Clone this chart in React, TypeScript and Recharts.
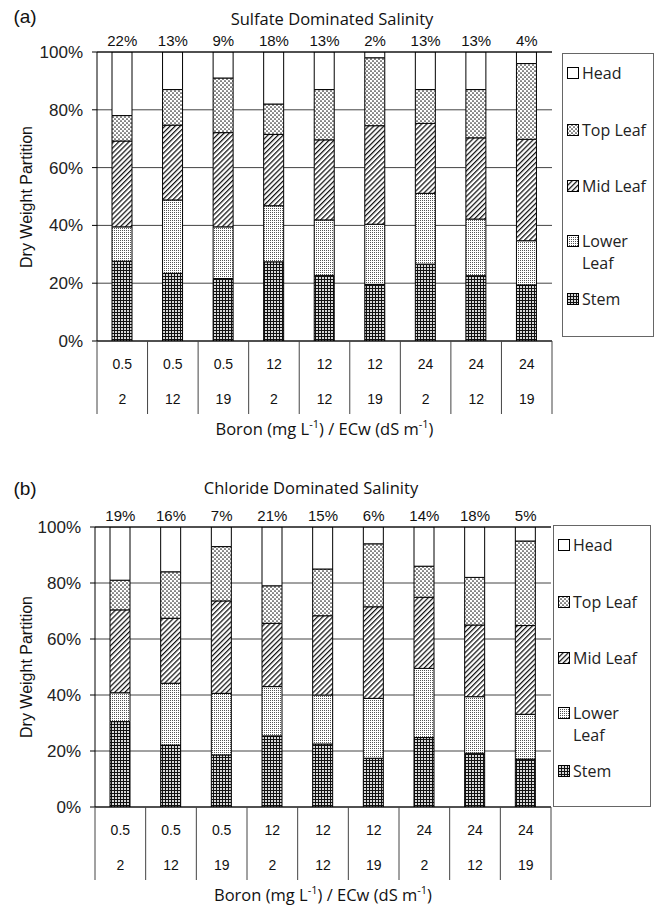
import React from 'react';
import { BarChart, Bar, XAxis, YAxis, CartesianGrid, Legend } from 'recharts';

// x categories: boron (mg/L) over ECw (dS/m)
const BORON = ['0.5', '0.5', '0.5', '12', '12', '12', '24', '24', '24'];
const ECW = ['2', '12', '19', '2', '12', '19', '2', '12', '19'];
const Y_TICKS = [0, 20, 40, 60, 80, 100];

// (a) sulfate dominated salinity, % of dry weight per plant part
const SULFATE_STEM = [27.6, 23.4, 21.6, 27.4, 22.7, 19.6, 26.6, 22.6, 19.4];
const SULFATE_LOWER = [11.9, 25.4, 17.9, 19.4, 19.2, 20.8, 24.5, 19.6, 15.3];
const SULFATE_MID = [29.7, 25.9, 32.6, 24.7, 27.7, 34.1, 24.2, 28.1, 35.1];
const SULFATE_TOP = [8.8, 12.3, 18.9, 10.5, 17.4, 23.5, 11.7, 16.7, 26.2];
const SULFATE_HEAD = [22, 13, 9, 18, 13, 2, 13, 13, 4];

// (b) chloride dominated salinity
const CHLORIDE_STEM = [30.5, 22.1, 18.6, 25.4, 22.5, 17.4, 24.8, 19.2, 17.1];
const CHLORIDE_LOWER = [10.3, 22.1, 22.0, 17.6, 17.5, 21.4, 24.7, 20.2, 16.0];
const CHLORIDE_MID = [29.6, 23.2, 33.0, 22.6, 28.3, 32.7, 25.4, 25.6, 31.7];
const CHLORIDE_TOP = [10.6, 16.6, 19.4, 13.4, 16.7, 22.5, 11.1, 17.0, 30.2];
const CHLORIDE_HEAD = [19, 16, 7, 21, 15, 6, 14, 18, 5];

const SERIES = [
  { key: 'stem', name: 'Stem' },
  { key: 'lower', name: 'Lower Leaf' },
  { key: 'mid', name: 'Mid Leaf' },
  { key: 'top', name: 'Top Leaf' },
  { key: 'head', name: 'Head' },
];

const ARIAL = '"Liberation Sans", Arial, sans-serif';
const CALIBRI = '"Open Sans", Lato, sans-serif';
const LEGEND_TOPS = [8, 65, 121, 176, 234]; // Head .. Stem

const Patterns = ({ id }: { id: string }) => (
  <defs>
    <pattern id={`${id}-stem`} width="3" height="3" patternUnits="userSpaceOnUse">
      <rect width="3" height="3" fill="#d8d8d8" />
      <path d="M0 0.5H3M0.5 0V3" stroke="#111" strokeWidth="1" />
    </pattern>
    <pattern id={`${id}-lower`} width="2" height="2" patternUnits="userSpaceOnUse">
      <rect width="2" height="2" fill="#fff" />
      <rect width="1" height="1" fill="#555" />
    </pattern>
    <pattern id={`${id}-mid`} width="3.6" height="3.6" patternUnits="userSpaceOnUse" patternTransform="rotate(45)">
      <rect width="3.6" height="3.6" fill="#fff" />
      <line x1="0.6" y1="0" x2="0.6" y2="3.6" stroke="#111" strokeWidth="1.3" />
    </pattern>
    <pattern id={`${id}-top`} width="4" height="4" patternUnits="userSpaceOnUse">
      <rect width="4" height="4" fill="#fff" />
      <circle cx="1" cy="1" r="0.85" fill="#222" />
      <circle cx="3" cy="3" r="0.85" fill="#222" />
    </pattern>
    <pattern id={`${id}-head`} width="4" height="4" patternUnits="userSpaceOnUse">
      <rect width="4" height="4" fill="#fff" />
    </pattern>
  </defs>
);

const PatternLegend = ({ id }: { id: string }) => (
  <div style={{
    position: 'relative', width: '100%', height: '100%', border: '1px solid #666',
    boxSizing: 'border-box', fontFamily: CALIBRI, fontSize: 16, color: '#222', background: '#fff',
  }}>
    {[...SERIES].reverse().map((s, i) => (
      <div key={s.key} style={{ position: 'absolute', left: 4, top: LEGEND_TOPS[i], display: 'flex', lineHeight: '22px' }}>
        <svg width="12" height="12" style={{ marginTop: 5, marginRight: 3, flex: 'none' }}>
          <rect x="0.5" y="0.5" width="11" height="11" fill={`url(#${id}-${s.key})`} stroke="#000" />
        </svg>
        <span style={{ whiteSpace: 'nowrap' }}>{s.name === 'Lower Leaf' ? <>Lower<br />Leaf</> : s.name}</span>
      </div>
    ))}
  </div>
);

const Centered = ({ x, y, style, children }: any) => (
  <div style={{
    position: 'absolute', left: x, top: y, transform: 'translate(-50%, -50%)',
    whiteSpace: 'nowrap', color: '#111', ...style,
  }}>{children}</div>
);

interface PanelProps {
  id: string; top: number; height: number; letter: string; title: string;
  letterY: number; titleX: number; titleY: number;
  plotTop: number; plotBottom: number; plotLeft: number; plotRight: number;
  legend: { left: number; top: number; width: number; height: number };
  stem: number[]; lower: number[]; mid: number[]; topLeaf: number[]; head: number[];
}

function Panel(p: PanelProps) {
  const data = BORON.map((b, i) => ({
    cond: `${b}/${ECW[i]}`,
    stem: p.stem[i], lower: p.lower[i], mid: p.mid[i], top: p.topLeaf[i], head: p.head[i],
  }));
  const step = (p.plotRight - p.plotLeft) / data.length;
  const tableH = 73;

  const CatTick = ({ x, y, index }: any) => (
    <g>
      <line x1={x - step / 2} x2={x - step / 2} y1={y} y2={y + tableH} stroke="#444" />
      {index === data.length - 1 && (
        <line x1={x + step / 2} x2={x + step / 2} y1={y} y2={y + tableH} stroke="#444" />
      )}
      <text x={x} y={y + 23} textAnchor="middle" dominantBaseline="central"
        fontFamily={ARIAL} fontSize={14} fill="#111">{BORON[index]}</text>
      <text x={x} y={y + 58} textAnchor="middle" dominantBaseline="central"
        fontFamily={ARIAL} fontSize={14} fill="#111">{ECW[index]}</text>
    </g>
  );

  return (
    <div style={{ position: 'absolute', left: 0, top: p.top, width: 661, height: p.height }}>
      <BarChart width={661} height={p.height} data={data}
        margin={{ top: p.plotTop - 20, right: 661 - p.plotRight, bottom: p.height - p.plotBottom - tableH, left: 0 }}>
        <Patterns id={p.id} />
        <CartesianGrid vertical={false} stroke="#444" />
        <XAxis dataKey="cond" interval={0} height={tableH} tickLine={false} tickSize={0} tickMargin={0}
          axisLine={{ stroke: '#000' }} tick={<CatTick />} />
        <XAxis xAxisId="top" orientation="top" dataKey="cond" interval={0} height={20}
          tickLine={false} tickSize={0} tickMargin={6} axisLine={{ stroke: '#000' }}
          tickFormatter={(_v: any, i: number) => `${p.head[i]}%`}
          tick={{ fontFamily: ARIAL, fontSize: 15, fill: '#111' }} />
        <YAxis width={p.plotLeft} domain={[0, 100]} ticks={Y_TICKS} allowDataOverflow
          tickFormatter={(v: number) => `${v}%`} tickSize={5} tickMargin={9}
          tickLine={{ stroke: '#000' }} axisLine={{ stroke: '#000' }}
          tick={{ fontFamily: ARIAL, fontSize: 17, fill: '#222' }} />
        <YAxis yAxisId="r" orientation="right" width={0} domain={[0, 100]} tick={false}
          tickLine={false} axisLine={{ stroke: '#000' }} />
        <Legend layout="vertical" align="center" verticalAlign="middle"
          wrapperStyle={{ left: p.legend.left, top: p.legend.top, width: p.legend.width, height: p.legend.height }}
          content={() => <PatternLegend id={p.id} />} />
        {SERIES.map((s) => (
          <Bar key={s.key} dataKey={s.key} name={s.name} stackId="a" fill={`url(#${p.id}-${s.key})`}
            stroke="#000" strokeWidth={1} barSize={20} isAnimationActive={false} />
        ))}
      </BarChart>
      <Centered x={25} y={p.letterY} style={{ fontFamily: ARIAL, fontSize: 19 }}>{p.letter}</Centered>
      <Centered x={p.titleX} y={p.titleY} style={{ fontFamily: CALIBRI, fontSize: 16.5 }}>{p.title}</Centered>
      <Centered x={27} y={(p.plotTop + p.plotBottom) / 2}
        style={{ fontFamily: ARIAL, fontSize: 16, transform: 'translate(-50%, -50%) rotate(-90deg)' }}>
        Dry Weight Partition
      </Centered>
      <Centered x={(p.plotLeft + p.plotRight) / 2} y={p.plotBottom + tableH + 14}
        style={{ fontFamily: CALIBRI, fontSize: 16.5 }}>
        Boron (mg L<sup style={{ fontSize: 11 }}>-1</sup>) / ECw (dS m<sup style={{ fontSize: 11 }}>-1</sup>)
      </Centered>
    </div>
  );
}

export default function App() {
  return (
    <div style={{ position: 'absolute', left: 0, top: 0, width: 661, height: 911, background: '#fff' }}>
      <Panel id="a" top={0} height={460} letter="(a)" title="Sulfate Dominated Salinity"
        letterY={17} titleX={332} titleY={18}
        plotTop={52} plotBottom={341} plotLeft={97} plotRight={552}
        legend={{ left: 562, top: 53, width: 92, height: 284 }}
        stem={SULFATE_STEM} lower={SULFATE_LOWER} mid={SULFATE_MID} topLeaf={SULFATE_TOP} head={SULFATE_HEAD} />
      <Panel id="b" top={460} height={451} letter="(b)" title="Chloride Dominated Salinity"
        letterY={29} titleX={311} titleY={27}
        plotTop={67} plotBottom={347} plotLeft={95} plotRight={551}
        legend={{ left: 553, top: 65, width: 98, height: 282 }}
        stem={CHLORIDE_STEM} lower={CHLORIDE_LOWER} mid={CHLORIDE_MID} topLeaf={CHLORIDE_TOP} head={CHLORIDE_HEAD} />
    </div>
  );
}
